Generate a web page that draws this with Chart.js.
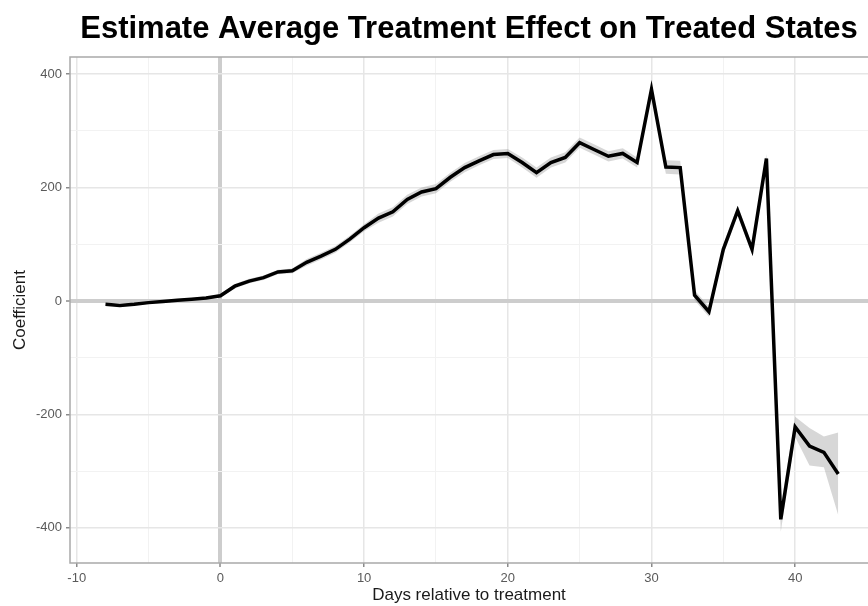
<!DOCTYPE html>
<html>
<head>
<meta charset="utf-8">
<script src="https://cdn.jsdelivr.net/npm/chart.js@4.4.1/dist/chart.umd.min.js"></script>
<style>
html,body{margin:0;padding:0;background:#ffffff;overflow:hidden}
#wrap{width:868px;height:606px;position:relative}
</style>
</head>
<body>
<div id="wrap"><canvas id="c" width="868" height="606"></canvas></div>
<script>
// ---- data ----
const days = [-8,-7,-6,-5,-4,-3,-2,-1,0,1,2,3,4,5,6,7,8,9,10,11,12,13,14,15,16,17,18,19,20,21,22,23,24,25,26,27,28,29,30,31,32,33,34,35,36,37,38,39,40,41,42,43];
const coefficient = [-6,-8,-6,-3,-1,1,3,5,9,26,35,41,51,53,68,79,91,109,129,146,157,179,192,198,218,235,247,258,260,244,226,244,253,279,267,255,260,244,373,236,235,10,-19,91,159,91,251,-385,-222,-256,-267,-305];
const ciLower = [-8,-10,-8,-5,-3,-1,1,3,6,22,31,37,47,49,62,73,85,103,123,138,149,171,184,190,210,227,239,250,252,235,217,235,244,270,258,246,251,235,365,224,223,1,-28,82,150,82,243,-407,-240,-290,-293,-378];
const ciUpper = [-4,-6,-4,-1,1,3,5,7,12,30,39,45,55,57,74,85,97,115,135,154,165,187,200,206,226,243,255,266,268,253,235,253,262,288,276,264,269,253,381,248,247,19,-10,100,168,100,259,-363,-204,-224,-239,-232];
const xTickValues = [-10,-5,0,5,10,15,20,25,30,35,40];
const yTickValues = [-400,-300,-200,-100,0,100,200,300,400];
const xLabelValues = [-10,0,10,20,30,40];
const yLabelValues = [-400,-200,0,200,400];

const toPts = (ys) => days.map((d, i) => ({x: d, y: ys[i]}));

const panelBorder = {
  id: 'panelBorder',
  afterDatasetsDraw(chart) {
    const {ctx, chartArea: {left, top, right, bottom}} = chart;
    ctx.save();
    ctx.strokeStyle = '#a9a9a9';
    ctx.lineWidth = 1.5;
    ctx.beginPath();
    ctx.moveTo(right + 2, top);
    ctx.lineTo(left, top);
    ctx.lineTo(left, bottom);
    ctx.lineTo(right + 2, bottom);
    ctx.stroke();
    ctx.restore();
  }
};

const FONT = "'Liberation Sans', Arial, sans-serif";

new Chart(document.getElementById('c'), {
  type: 'line',
  data: {
    datasets: [
      {
        label: 'upper',
        data: toPts(ciUpper),
        borderWidth: 0,
        borderColor: 'rgba(0,0,0,0)',
        pointRadius: 0,
        fill: false,
        order: 2
      },
      {
        label: 'lower',
        data: toPts(ciLower),
        borderWidth: 0,
        borderColor: 'rgba(0,0,0,0)',
        backgroundColor: 'rgba(150,150,150,0.38)',
        pointRadius: 0,
        fill: '-1',
        order: 2
      },
      {
        label: 'Coefficient',
        data: toPts(coefficient),
        borderColor: '#000000',
        borderWidth: 3.5,
        pointRadius: 0,
        tension: 0,
        fill: false,
        borderJoinStyle: 'miter',
        order: 0
      }
    ]
  },
  options: {
    responsive: false,
    animation: false,
    layout: {padding: 0},
    plugins: {
      legend: {display: false},
      tooltip: {enabled: false},
      title: {
        display: true,
        fullSize: false,
        text: 'Estimate Average Treatment Effect on Treated States',
        color: '#000000',
        font: {family: FONT, size: 31, weight: 'bold', lineHeight: 1.2},
        padding: {top: 11, bottom: 8.8}
      }
    },
    scales: {
      x: {
        type: 'linear',
        min: -10.47,
        max: 45.07,
        afterBuildTicks: (s) => { s.ticks = xTickValues.map(v => ({value: v})); },
        afterFit: (s) => { s.height = 43; },
        border: {display: false},
        grid: {
          color: (c) => c.tick.value === 0 ? '#cdcdcd' : (xLabelValues.includes(c.tick.value) ? '#e6e6e6' : '#f2f2f2'),
          lineWidth: (c) => c.tick.value === 0 ? 4 : (xLabelValues.includes(c.tick.value) ? 1.5 : 1),
          tickColor: (c) => xLabelValues.includes(c.tick.value) ? '#8a8a8a' : 'rgba(0,0,0,0)',
          tickLength: 4,
          tickWidth: 1.5
        },
        ticks: {
          autoSkip: false,
          maxRotation: 0,
          padding: 4,
          color: '#5a5a5a',
          font: {family: FONT, size: 13},
          callback: (v) => xLabelValues.includes(v) ? String(v) : ''
        },
        title: {
          display: true,
          text: 'Days relative to treatment',
          color: '#1a1a1a',
          font: {family: FONT, size: 17, lineHeight: 1.2},
          padding: {top: 0, bottom: 0}
        }
      },
      y: {
        type: 'linear',
        min: -462,
        max: 430,
        afterBuildTicks: (s) => { s.ticks = yTickValues.map(v => ({value: v})); },
        afterFit: (s) => { s.width = 70; },
        border: {display: false},
        grid: {
          color: (c) => c.tick.value === 0 ? '#cdcdcd' : (yLabelValues.includes(c.tick.value) ? '#e6e6e6' : '#f2f2f2'),
          lineWidth: (c) => c.tick.value === 0 ? 4 : (yLabelValues.includes(c.tick.value) ? 1.5 : 1),
          tickColor: (c) => yLabelValues.includes(c.tick.value) ? '#8a8a8a' : 'rgba(0,0,0,0)',
          tickLength: 4,
          tickWidth: 1.5
        },
        ticks: {
          autoSkip: false,
          padding: 4,
          color: '#5a5a5a',
          font: {family: FONT, size: 13},
          callback: (v) => yLabelValues.includes(v) ? String(v) : ''
        },
        title: {
          display: true,
          text: 'Coefficient',
          color: '#1a1a1a',
          font: {family: FONT, size: 17, lineHeight: 1.2},
          padding: {top: 10, bottom: 0}
        }
      }
    }
  },
  plugins: [panelBorder]
});
</script>
</body>
</html>
